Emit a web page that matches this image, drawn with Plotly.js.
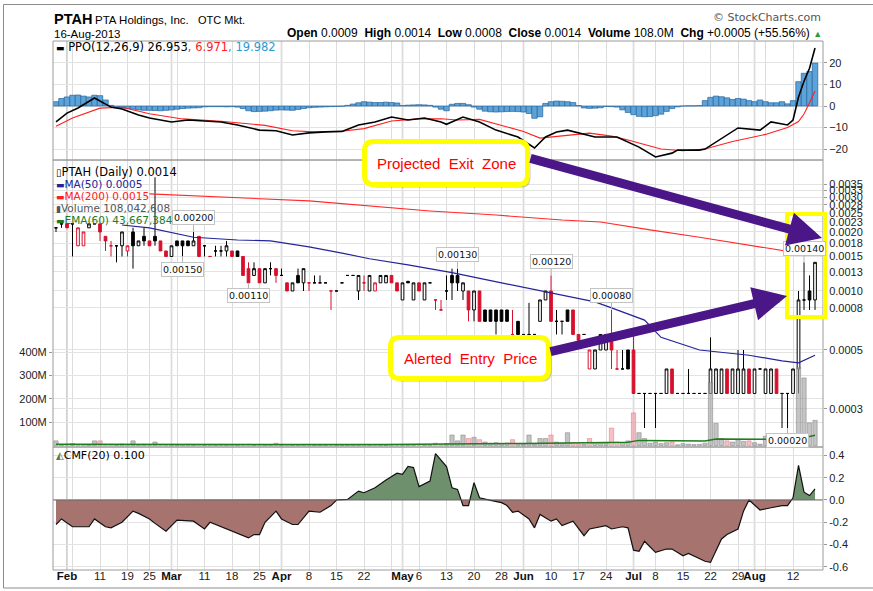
<!DOCTYPE html>
<html><head><meta charset="utf-8">
<script src="https://cdn.plot.ly/plotly-3.0.1.min.js"></script>
<style>html,body{margin:0;padding:0;background:#fff;}#chart{width:873px;height:591px;}</style>
</head><body><div id="chart"></div>
<script>
// ---------- DATA (2013, daily trading sessions) ----------
const dates = ['01-30','01-31',
'02-01','02-04','02-05','02-06','02-07','02-08','02-11','02-12','02-13','02-14','02-15','02-19','02-20','02-21','02-22','02-25','02-26','02-27','02-28',
'03-01','03-04','03-05','03-06','03-07','03-08','03-11','03-12','03-13','03-14','03-15','03-18','03-19','03-20','03-21','03-22','03-25','03-26','03-27','03-28',
'04-01','04-02','04-03','04-04','04-05','04-08','04-09','04-10','04-11','04-12','04-15','04-16','04-17','04-18','04-19','04-22','04-23','04-24','04-25','04-26','04-29','04-30',
'05-01','05-02','05-03','05-06','05-07','05-08','05-09','05-10','05-13','05-14','05-15','05-16','05-17','05-20','05-21','05-22','05-23','05-24','05-28','05-29','05-30','05-31',
'06-03','06-04','06-05','06-06','06-07','06-10','06-11','06-12','06-13','06-14','06-17','06-18','06-19','06-20','06-21','06-24','06-25','06-26','06-27','06-28',
'07-01','07-02','07-03','07-05','07-08','07-09','07-10','07-11','07-12','07-15','07-16','07-17','07-18','07-19','07-22','07-23','07-24','07-25','07-26','07-29','07-30','07-31',
'08-01','08-02','08-05','08-06','08-07','08-08','08-09','08-12','08-13','08-14','08-15','08-16'];

const open = [.0021,.0022,.0022,.0022,.0017,.0017,.0021,.0022,.0022,.0019,
.0017,.0017,.0017,.0016,.0020,.0017,.0019,.0018,.0019,.0018,
.0016,.0015,.0018,.0018,.0018,.0017,.0019,.0017,.0015,.0016,
.0016,.0016,.0016,.0016,.0015,.0013,.0012,.0013,.0011,.0013,
.0013,.0012,.0011,.0010,.0012,.0011,.0011,.0011,.0011,.0011,
.0010,.0010,.0011,.0012,.0012,.0010,.0011,.0010,.0010,.0011,
.0011,.0012,.0011,.0009,.00112,.0009,.0011,.0009,.0011,.0009,
.0008,.0010,.0012,.0012,.0010,.0010,.0008,.0010,.0008,.0008,
.0008,.0008,.0008,.0006,.0007,.0006,.0006,.0006,.0007,.0009,
.0010,.0007,.0007,.0008,.0008,.0006,.0006,.0004,.0004,.0005,
.0005,.00055,.0004,.0004,.0005,.0005,.0003,.0003,.0003,.0003,
.0003,.0003,.0004,.0003,.0003,.0003,.0003,.0003,.0003,.0003,
.0003,.0003,.0004,.0003,.0003,.0003,.0004,.0003,.0004,.0003,
.0003,.0004,.0003,.0003,.0003,.0004,.0009,.0010,.0009];
const high = [.0021,.0022,.0022,.0022,.0021,.0020,.0022,.0022,.0022,.0019,
.0018,.0017,.0020,.0017,.0021,.0018,.0021,.0018,.0038,.0018,
.0016,.0017,.0018,.0018,.0018,.0020,.0019,.0017,.0015,.0017,
.0017,.0018,.0016,.0016,.0015,.0014,.0014,.0013,.0013,.0014,
.0013,.0013,.0011,.0011,.0013,.0013,.0011,.0012,.0012,.0011,
.0010,.0010,.0011,.0012,.0012,.0012,.0012,.0012,.0011,.0012,
.0012,.0012,.0011,.0011,.00112,.0011,.0011,.0011,.0011,.0009,
.0009,.0012,.0013,.0013,.0011,.0010,.0010,.0010,.0008,.0008,
.0008,.0008,.0008,.0008,.0007,.0006,.00087,.0006,.0009,.0010,
.0012,.0008,.0007,.0008,.0008,.0006,.0006,.0005,.0005,.0006,
.0006,.0008,.0005,.0005,.0005,.0006,.0003,.0003,.0003,.0003,
.0003,.0004,.0004,.0003,.0003,.0004,.0003,.0003,.0003,.00058,
.0004,.0004,.0004,.0004,.0005,.0005,.0004,.0004,.0004,.0004,
.0004,.0004,.0003,.0003,.0004,.0010,.0014,.0012,.0014];
const low = [.0020,.0021,.0021,.0015,.0017,.0017,.0021,.0022,.0018,.0016,
.0015,.0014,.0015,.0015,.0013,.0017,.0017,.0017,.0017,.0016,
.0015,.0015,.0017,.0015,.0017,.0017,.0015,.0015,.0015,.0015,
.0015,.0015,.0015,.0015,.0012,.0011,.0012,.0011,.0011,.0012,
.0011,.0012,.0010,.0010,.0011,.0010,.0010,.0011,.0011,.0011,
.0008,.0010,.0011,.0012,.0012,.0009,.0010,.0010,.0010,.0011,
.0011,.0011,.0010,.0009,.0011,.0009,.0010,.0009,.0011,.0008,
.0008,.0009,.0009,.0010,.0009,.0007,.0007,.0007,.0007,.0007,
.0006,.0007,.0007,.0006,.0006,.0006,.0006,.0006,.0007,.0009,
.0007,.0006,.0006,.0007,.0006,.00055,.0006,.0004,.0004,.0005,
.0005,.0004,.0004,.0004,.0004,.0003,.0003,.0002,.0003,.0002,
.0003,.0003,.0003,.0003,.0003,.0003,.0003,.0003,.0003,.0003,
.0003,.0003,.0003,.0003,.0003,.0003,.0003,.0003,.0004,.0003,
.0003,.0003,.0002,.0002,.0003,.0003,.0008,.0008,.0008];
const close = [.0021,.0022,.0021,.0022,.0021,.0020,.0022,.0022,.0020,.0018,
.0017,.0017,.0020,.0017,.0017,.0018,.0018,.0017,.0018,.0016,
.0015,.0017,.0017,.0017,.0017,.0018,.0015,.0017,.0015,.0016,
.0016,.0017,.0015,.0015,.0012,.0011,.0013,.0011,.0013,.0013,
.0012,.0012,.0010,.0011,.0011,.0013,.0011,.0011,.0011,.0011,
.0010,.0010,.0011,.0012,.0012,.0012,.0011,.0012,.0011,.0012,
.0012,.0011,.0010,.0011,.0011,.0011,.0010,.0011,.0011,.0009,
.0008,.0010,.0011,.0011,.0011,.0008,.0010,.0007,.0007,.0007,
.0007,.0007,.0007,.0006,.0006,.0006,.0006,.0006,.0009,.0010,
.0007,.0007,.0007,.0007,.0006,.00056,.0006,.0005,.0005,.0006,
.0006,.0005,.0004,.0004,.0004,.0003,.0003,.0003,.0003,.0003,
.0003,.0004,.0003,.0003,.0003,.0003,.0003,.0003,.0003,.0004,
.0004,.0004,.0003,.0004,.0004,.0004,.0003,.0004,.0004,.0004,
.0004,.0003,.0003,.0003,.0004,.0009,.0009,.0009,.0014];
// volume in millions of shares
const volumeM = [20,3,5,8,4,3,2,20,20,4, 5,3,6,3,20,4,5,3,15,4, 3,4,3,4,5,3,4,3,2,3,
5,3,2,3,4,5,3,4,3,4, 10,3,3,2,3,4,3,2,2,2, 3,2,2,2,2,3,2,3,2,3, 2,3,3,4,3,3,5,3,2,10,
4,8,45,20,45,30,35,25,15,10, 12,8,10,25,8,5,45,6,30,30, 45,15,10,55,12,8,6,30,12,10,
10,75,15,12,20,140,55,30,10,15, 8,12,15,3,8,6,4,5,10,270, 95,30,20,15,25,18,20,12,6,40,
15,25,10,12,30,335,290,97,108];
const ppoHist = [2.0,3.5,4.2,5.0,5.1,4.6,4.2,5.0,4.8,2.8,
0.3,-0.8,-1.0,-1.2,-1.5,-1.8,-2.0,-2.0,-2.1,-2.2,
-2.0,-1.8,-1.5,-1.2,-1.0,-0.9,-0.8,-0.4,-0.3,-0.3,
-0.3,-0.4,-0.3,-0.5,-1.2,-2.2,-2.6,-2.5,-2.4,-2.2,
-1.9,-1.8,-1.9,-2.0,-1.6,-1.2,-0.8,-0.6,-0.5,-0.4,
-0.3,-0.2,-0.1,0.3,0.9,1.5,2.0,1.8,1.6,1.6,
1.8,1.6,1.4,0.2,0.4,0.5,0.6,0.5,0.3,-0.5,
-1.5,-2.2,0.8,1.2,1.2,0.6,-0.5,-1.5,-2.4,-2.7,
-2.8,-2.7,-2.6,-2.5,-2.6,-2.8,-3.5,-5.7,-5.0,1.2,
2.0,2.3,2.2,2.0,1.6,0.2,-0.9,-1.1,-1.0,-0.8,
-0.2,-0.3,-0.5,-1.8,-3.0,-4.0,-4.8,-5.0,-4.9,-4.5,
-3.8,-2.5,-1.2,-0.4,0,0.1,0.1,0.2,2.5,4.0,
4.6,4.3,3.8,3.0,3.5,3.2,2.5,2.0,2.8,2.0,
1.5,1.5,2.0,1.0,2.5,11.3,15.2,16.0,19.982];
const ppoDates = ['01-30','02-01','02-05','02-08','02-13','02-15','02-21','02-25','03-01','03-06','03-14','03-19','03-25','03-28','04-03','04-08','04-11','04-16','04-19','04-24','04-29','05-02','05-07','05-10','05-13','05-16','05-21','05-24','05-31','06-05','06-07','06-11','06-13','06-20','06-26','07-02','07-08','07-11','07-12','07-18','07-19','07-24','07-29','08-02','08-06','08-09','08-12','08-13','08-14','08-15','08-16'];
const ppoLine = [-7.4,-3.3,-0.9,3.7,-0.5,-1.4,-4.2,-5.6,-7.4,-6.5,-7.4,-8.8,-11.2,-11.5,-13.5,-12.5,-12.0,-11.8,-8.8,-7.4,-5.1,-6.5,-5.6,-7.4,-8.5,-5.1,-7.4,-11.2,-14.4,-19.5,-14.4,-12.1,-11.2,-14.4,-14.4,-19.1,-23.7,-21.9,-20.5,-20.5,-20.0,-14.9,-10.2,-11.2,-7.4,-8.8,-6.5,4.2,11.5,17.5,26.953];
const sigDates = ['01-30','02-04','02-11','02-15','02-25','03-05','03-14','03-21','03-26','04-03','04-09','04-16','04-22','04-29','05-06','05-10','05-15','05-21','05-24','06-03','06-06','06-12','06-19','06-25','06-28','07-09','07-15','07-19','07-26','08-05','08-09','08-13','08-14','08-15','08-16'];
const sigLine = [-9.4,-5.6,-1.0,-0.6,-3.6,-6.0,-7.1,-8.5,-9.0,-11.5,-12.0,-11.7,-10.5,-7.0,-6.0,-5.9,-6.5,-6.2,-8.4,-11.8,-14.9,-13.8,-12.6,-14.0,-15.8,-20.0,-20.8,-20.0,-16.5,-13.2,-10.0,-7.2,-3.7,1.5,6.971];
const ma50Dates = ['02-15','02-25','03-07','03-19','03-27','04-08','04-16','04-23','05-02','05-14','05-28','06-10','06-20','06-25','07-03','07-09','07-18','07-31','08-08','08-13','08-16'];
const ma50 = [.00217,.00210,.00188,.00182,.00180,.00168,.00156,.00146,.00136,.00124,.00110,.00098,.00088,.00082,.00071,.00058,.00050,.00047,.00044,.00043,.00047];
const ma200Dates = ['02-25','03-14','04-08','05-08','05-24','06-12','06-21','07-05','07-18','08-05','08-13','08-16'];
const ma200 = [.00313,.00302,.00288,.00256,.00244,.00230,.00225,.00205,.00188,.00166,.00156,.00156];
const emaDates = ['01-30','04-26','06-03','06-28','07-02','07-19','07-23','08-12','08-13','08-14','08-15','08-16'];
const ema60M = [5,4,9,14,22,19,28,27,33,38,39,43.67];
const cmfDates = ['01-30','01-31','02-04','02-07','02-08','02-12','02-13','02-15','02-20','02-21','02-25','02-26','02-28','03-04','03-07','03-11','03-12','03-14','03-18','03-21','03-22','03-25','03-26','03-28','04-01','04-03','04-04','04-08','04-10','04-12','04-15','04-17','04-19','04-22','04-24','04-26','04-30','05-01','05-02','05-03','05-06','05-08','05-09','05-13','05-14','05-15','05-16','05-17','05-20','05-21','05-23','05-28','05-29','05-30','05-31','06-04','06-05','06-06','06-10','06-11','06-12','06-14','06-18','06-19','06-24','06-25','06-27','06-28','07-01','07-02','07-03','07-08','07-10','07-11','07-15','07-16','07-19','07-22','07-24','07-25','07-29','07-30','07-31','08-02','08-06','08-08','08-09','08-12','08-13','08-14','08-15','08-16'];
const cmf = [-0.22,-0.17,-0.24,-0.24,-0.17,-0.24,-0.25,-0.20,-0.10,-0.12,-0.17,-0.21,-0.28,-0.18,-0.19,-0.26,-0.20,-0.24,-0.28,-0.34,-0.31,-0.31,-0.20,-0.10,-0.17,-0.22,-0.22,-0.10,-0.11,-0.05,0.0,0.005,0.08,0.065,0.11,0.18,0.24,0.23,0.30,0.29,0.12,0.17,0.415,0.30,0.11,0.095,-0.05,-0.05,0.155,0.02,-0.003,-0.024,-0.05,-0.11,-0.10,-0.17,-0.25,-0.13,-0.19,-0.17,-0.23,-0.19,-0.32,-0.26,-0.23,-0.26,-0.24,-0.25,-0.45,-0.46,-0.37,-0.47,-0.44,-0.44,-0.50,-0.48,-0.55,-0.56,-0.35,-0.31,-0.26,-0.10,0.0,-0.09,-0.07,-0.05,-0.05,0.02,0.31,0.07,0.04,0.10];
const tickDates = ['02-01','02-04','02-11','02-19','02-25','03-01','03-04','03-11','03-18','03-25','04-01','04-08','04-15','04-22','04-29','05-01','05-06','05-13','05-20','05-28','06-03','06-10','06-17','06-24','07-01','07-08','07-15','07-22','07-29','08-01','08-05','08-12'];
const tickLabels = ['','','11','19','25','','','11','18','25','','8','15','22','','','6','13','20','28','','10','17','24','','8','15','22','29','','','12'];
const monthDates = ['02-01','03-01','04-01','05-01','06-03','07-01','08-01'];
const monthLabels = ['Feb','Mar','Apr','May','Jun','Jul','Aug'];
const priceTicks = [0.0035,0.00325,0.003,0.00275,0.0025,0.00225,0.002,0.00175,0.0015,0.00125,0.001,0.00082,0.0005,0.00025];
const priceTickText = ['0.0035','0.0033','0.0030','0.0028','0.0025','0.0023','0.0020','0.0018','0.0015','0.0013','0.0010','0.0008','0.0005','0.0003'];
const volTicks = [100,200,300,400];
const volTickText = ['100M','200M','300M','400M'];
const ppoTicks = [-20,-10,0,10,20];
const cmfTicks = [-0.6,-0.4,-0.2,0,0.2,0.4];
const cmfTickText = ['-0.6','-0.4','-0.2','0.0','0.2','0.4'];
const callouts = [ // [date, which, label]
 ['03-07','high','0.00200'],['03-05','low','0.00150'],['03-21','low','0.00110'],['05-15','high','0.00130'],
 ['06-10','high','0.00120'],['06-25','high','0.00080'],['08-14','high','0.00140'],['08-09','low','0.00020']];

// ---------- BUILD ----------
const N = dates.length;
const ix = d => dates.indexOf(d);
const up = close.map((c,i)=> i===0 ? true : c >= close[i-1]);
function subset(flag){const o={x:[],o:[],h:[],l:[],c:[]};for(let i=0;i<N;i++){if(up[i]===flag){o.x.push(i);o.o.push(open[i]);o.h.push(high[i]);o.l.push(low[i]);o.c.push(close[i]);}}return o;}
const bk = subset(true), rd = subset(false);
const RED = '#d8102c';
const traces = [];
traces.push({type:'bar', x:dates.map((d,i)=>i), y:volumeM, xaxis:'x', yaxis:'y3', width:0.78,
  marker:{color:up.map(u=>u?'rgba(165,165,165,0.65)':'rgba(240,150,160,0.6)'), line:{color:up.map(u=>u?'rgba(120,120,120,0.8)':'rgba(225,110,120,0.8)'), width:0.6}}, hoverinfo:'skip'});
traces.push({type:'scatter', mode:'lines', x:emaDates.map(ix), y:ema60M, xaxis:'x', yaxis:'y3', line:{color:'#1e7b1e', width:1.5}, hoverinfo:'skip'});
traces.push({type:'scatter', mode:'lines', x:ma200Dates.map(ix), y:ma200, xaxis:'x', yaxis:'y2', line:{color:'#ff2a2a', width:1.1}, hoverinfo:'skip'});
traces.push({type:'scatter', mode:'lines', x:ma50Dates.map(ix), y:ma50, xaxis:'x', yaxis:'y2', line:{color:'#23239b', width:1.2}, hoverinfo:'skip'});
traces.push({type:'candlestick', x:bk.x, open:bk.o, high:bk.h, low:bk.l, close:bk.c, xaxis:'x', yaxis:'y2', whiskerwidth:0,
  increasing:{line:{color:'#000',width:1}, fillcolor:'#fff'}, decreasing:{line:{color:'#000',width:1}, fillcolor:'#000'}, hoverinfo:'skip'});
traces.push({type:'candlestick', x:rd.x, open:rd.o, high:rd.h, low:rd.l, close:rd.c, xaxis:'x', yaxis:'y2', whiskerwidth:0,
  increasing:{line:{color:RED,width:1}, fillcolor:'#fff'}, decreasing:{line:{color:RED,width:1}, fillcolor:RED}, hoverinfo:'skip'});
traces.push({type:'bar', x:dates.map((d,i)=>i), y:ppoHist, xaxis:'x', yaxis:'y4', width:1,
  marker:{color:'#5da3d8', line:{color:'#22649f', width:0.7}}, hoverinfo:'skip'});
traces.push({type:'scatter', mode:'lines', x:sigDates.map(ix), y:sigLine, xaxis:'x', yaxis:'y4', line:{color:'#ff2020', width:1.1}, hoverinfo:'skip'});
traces.push({type:'scatter', mode:'lines', x:ppoDates.map(ix), y:ppoLine, xaxis:'x', yaxis:'y4', line:{color:'#000', width:1.6}, hoverinfo:'skip'});
const cx = cmfDates.map(ix);
const fx=[], fv=[];
for(let k=0;k<cx.length;k++){
  if(k>0){const v0=cmf[k-1], v1=cmf[k]; if((v0>0&&v1<0)||(v0<0&&v1>0)){const t=v0/(v0-v1); fx.push(cx[k-1]+t*(cx[k]-cx[k-1])); fv.push(0);}}
  fx.push(cx[k]); fv.push(cmf[k]);
}
traces.push({type:'scatter', mode:'lines', x:fx, y:fv.map(v=>Math.max(v,0)), xaxis:'x', yaxis:'y', fill:'tozeroy', fillcolor:'#6e906c', line:{width:0}, hoverinfo:'skip'});
traces.push({type:'scatter', mode:'lines', x:fx, y:fv.map(v=>Math.min(v,0)), xaxis:'x', yaxis:'y', fill:'tozeroy', fillcolor:'#a6736f', line:{width:0}, hoverinfo:'skip'});
traces.push({type:'scatter', mode:'lines', x:cx, y:cmf, xaxis:'x', yaxis:'y', line:{color:'#111', width:1.2}, hoverinfo:'skip'});
// invisible carrier so the month-label axis is drawn
traces.push({type:'scatter', mode:'markers', x:monthDates.map(ix), y:monthDates.map(()=>0), xaxis:'x2', yaxis:'y', marker:{opacity:0}, hoverinfo:'skip'});

// ---------- LAYOUT ----------
const PL=53, PT=41, PW=770, PH=529;
const px = v => (v-PL)/PW;
const py = v => (PT+PH-v)/PH;
const dY = [0.2325, 0.775];
const axFont = {family:'Liberation Sans, Arial', size:11, color:'#222'};
const yBase = {side:'right', showgrid:true, gridcolor:'#e3e3e3', zeroline:false, ticks:'outside', ticklen:3, tickcolor:'#999', tickfont:axFont, automargin:false, fixedrange:true, showline:false};
const shapes = [];
monthDates.forEach(d=>shapes.push({type:'line', xref:'x', yref:'paper', x0:ix(d), x1:ix(d), y0:0, y1:1, line:{color:'#bdbdbd', width:1.4}, layer:'between'}));
shapes.push({type:'line', xref:'paper', yref:'y', x0:0, x1:1, y0:0, y1:0, line:{color:'#666', width:1}, layer:'above'});
[[0,dY[0]],[dY[0],dY[1]],[dY[1],1]].forEach(r=>shapes.push({type:'rect', xref:'paper', yref:'paper', x0:0, x1:1, y0:r[0], y1:r[1], line:{color:'#9a9a9a', width:1}, layer:'above'}));
shapes.push({type:'path', xref:'paper', yref:'paper', path:`M${px(873)},${py(4.5)} L${px(3.5)},${py(4.5)} L${px(3.5)},${py(588)} L${px(873)},${py(588)}`, line:{color:'#8c8c8c', width:1}});
function rr(x0,y0,x1,y1,r){
  const P=(x,y)=>`${px(x)},${py(y)}`;
  return `M${P(x0+r,y0)} L${P(x1-r,y0)} Q${P(x1,y0)} ${P(x1,y0+r)} L${P(x1,y1-r)} Q${P(x1,y1)} ${P(x1-r,y1)} L${P(x0+r,y1)} Q${P(x0,y1)} ${P(x0,y1-r)} L${P(x0,y0+r)} Q${P(x0,y0)} ${P(x0+r,y0)} Z`;
}
function callout(x0,y0,x1,y1){
  shapes.push({type:'path', xref:'paper', yref:'paper', path:rr(x0+3,y0+3,x1+3,y1+3,9), fillcolor:'rgba(0,0,0,0.22)', line:{width:0}, layer:'above'});
  shapes.push({type:'path', xref:'paper', yref:'paper', path:rr(x0,y0,x1,y1,9), fillcolor:'#fff', line:{color:'#ffff00', width:5}, layer:'above'});
}
callout(364.5,141.5,527.5,184.5);
callout(390.5,337.5,548.5,378.5);
shapes.push({type:'rect', xref:'paper', yref:'paper', x0:px(787), x1:px(825), y0:py(317), y1:py(214), line:{color:'#ffff00', width:4}, layer:'above'});

const ann = [];
const A = (x,y,text,opt) => ann.push(Object.assign({xref:'paper', yref:'paper', x:px(x), y:py(y), text, showarrow:false, xanchor:'left', yanchor:'middle'}, opt||{}));
const HF = 'Liberation Sans, Arial';
const LF = 'DejaVu Sans, Verdana';
const nb='\u00a0';
A(52,19,'<b>PTAH</b>',{font:{family:HF,size:14.5,color:'#000'}});
A(93,20,'PTA Holdings, Inc.',{font:{family:HF,size:11.5,color:'#000'}});
A(196,20,'OTC Mkt.',{font:{family:HF,size:11,color:'#000'}});
A(52,34,'16-Aug-2013',{font:{family:HF,size:11.5,color:'#000'}});
A(823,17,'© StockCharts.com',{xanchor:'right', font:{family:LF,size:11,color:'#555'}});
A(824,33,`<b>Open</b> 0.0009${nb} <b>High</b> 0.0014${nb} <b>Low</b> 0.0008${nb} <b>Close</b> 0.0014${nb} <b>Volume</b> 108.0M${nb} <b>Chg</b> +0.0005 (+55.56%) <span style="color:#2a9a3a;font-size:9px">▲</span>`,{xanchor:'right', font:{family:HF,size:12,color:'#000'}});
A(54,47,'<span style="font-size:9px">▬</span> PPO(12,26,9) 26.953<span style="color:#ff1a1a">, 6.971</span><span style="color:#2a9ad6">, 19.982</span>',{font:{family:LF,size:11.5,color:'#000'}});
A(54,172,'<span style="font-size:10px">▯</span>PTAH (Daily) 0.0014',{font:{family:LF,size:11.5,color:'#000'}});
A(54,184,'<span style="font-size:9px">▬</span>MA(50) 0.0005',{font:{family:LF,size:10.5,color:'#23239b'}});
A(54,196,'<span style="font-size:9px">▬</span>MA(200) 0.0015',{font:{family:LF,size:10.5,color:'#ff2020'}});
A(54,208,'<span style="font-size:9px">▮</span>Volume 108,042,608',{font:{family:LF,size:10.5,color:'#555'}});
A(54,220,'<span style="font-size:9px">▬</span>EMA(60) 43,667,384',{font:{family:LF,size:10.5,color:'#1e7b1e'}});
A(54,455,'<span style="color:#4f7a4c;font-size:10px">◭</span>CMF(20) 0.100',{font:{family:LF,size:11,color:'#000'}});
callouts.forEach(([d,which,label])=>{
  const i=ix(d); const v = which==='high'?high[i]:low[i];
  ann.push({xref:'x', yref:'y2', x:i, y:Math.log10(v), text:label, showarrow:true, arrowhead:0, arrowwidth:1, arrowcolor:'#b5b5b5',
    ax:0, ay: which==='high'?-14:13, bgcolor:'#fff', bordercolor:'#c4c4c4', borderwidth:1, borderpad:1,
    font:{family:LF, size:9.5, color:'#111'}});
});
A(446,163,'Projected'+nb+nb+'Exit'+nb+nb+'Zone',{xanchor:'center', font:{family:HF,size:15,color:'#ff0000'}});
A(470,358,'Alerted'+nb+nb+'Entry'+nb+nb+'Price',{xanchor:'center', font:{family:HF,size:15,color:'#ff0000'}});
const PUR='#4b1687';
ann.push({xref:'paper', yref:'paper', x:px(822), y:py(238), axref:'pixel', ayref:'pixel', ax:529-822, ay:158-238, text:'', showarrow:true, arrowhead:2, arrowsize:0.75, arrowwidth:9, arrowcolor:PUR, standoff:0});
ann.push({xref:'paper', yref:'paper', x:px(787), y:py(296), axref:'pixel', ayref:'pixel', ax:549-787, ay:352-296, text:'', showarrow:true, arrowhead:2, arrowsize:0.75, arrowwidth:9, arrowcolor:PUR, standoff:0});

const xFont = {family:'Liberation Sans, Arial', size:11.5, color:'#222'};
const layout = {
  width:873, height:591, margin:{l:PL, r:873-PL-PW, t:PT, b:591-PT-PH, pad:0},
  paper_bgcolor:'#fff', plot_bgcolor:'#fff', showlegend:false, bargap:0, barmode:'overlay', boxmode:'overlay',
  xaxis:{domain:[0,1], anchor:'y', range:[-0.545,139.45], tickmode:'array', tickvals:tickDates.map(ix),
    ticktext:tickLabels, showgrid:true, gridcolor:'#dcdcdc', ticks:'', zeroline:false,
    showline:false, rangeslider:{visible:false}, fixedrange:true, automargin:false, ticklabelstandoff:-3, tickfont:xFont},
  xaxis2:{overlaying:'x', anchor:'y', side:'bottom', range:[-0.545,139.45], tickmode:'array', tickvals:monthDates.map(ix),
    ticktext:monthLabels, showgrid:false, ticks:'', zeroline:false, showline:false, fixedrange:true, automargin:false,
    ticklabelstandoff:-3, tickfont:Object.assign({}, xFont, {weight:'bold', color:'#111'})},
  yaxis:Object.assign({}, yBase, {domain:[0,dY[0]], range:[-0.628,0.475], tickvals:cmfTicks, ticktext:cmfTickText}),
  yaxis2:Object.assign({}, yBase, {domain:[dY[0],dY[1]], type:'log', range:[-3.796,-2.332], tickvals:priceTicks, ticktext:priceTickText}),
  yaxis3:Object.assign({}, yBase, {overlaying:'y2', side:'left', range:[-6.4,1225], tickvals:volTicks, ticktext:volTickText}),
  yaxis4:Object.assign({}, yBase, {domain:[dY[1],1], range:[-25.1,30.2], tickvals:ppoTicks}),
  shapes, annotations:ann
};
Plotly.newPlot('chart', traces, layout, {staticPlot:true, displayModeBar:false});
</script></body></html>
